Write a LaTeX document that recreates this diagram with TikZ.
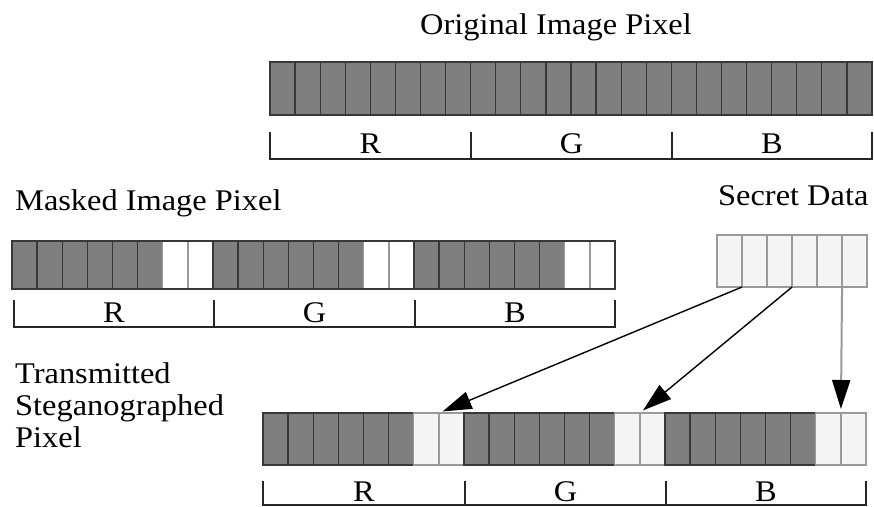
\documentclass[tikz,border=0pt]{standalone}
\usepackage{fontspec}
\setmainfont{Liberation Serif}[FakeStretch=1.08]
\usetikzlibrary{arrows.meta}
\definecolor{bitfill}{HTML}{7F7F7F}
\definecolor{bitline}{HTML}{383838}
\definecolor{freeline}{HTML}{9A9A9A}
\definecolor{datafill}{HTML}{F5F5F5}
\tikzset{
  bitcell/.style={draw, inner sep=0pt, outer sep=0pt, minimum width=25.125pt, line width=1.3pt},
  darkbit/.style={bitcell, fill=bitfill, draw=bitline},
  freebit/.style={bitcell, fill=white, draw=freeline},
  databit/.style={bitcell, fill=datafill, draw=freeline},
  caption/.style={inner sep=0pt, font=\fontsize{30}{32}\selectfont},
  brace/.style={line width=1.3pt, draw=black!85},
  pointer/.style={line width=1.4pt, shorten >=4pt, -{Triangle[length=29pt,width=18pt,black]}},
}
\begin{document}
\begin{tikzpicture}[x=1pt,y=-1pt]
\useasboundingbox (0,0) rectangle (874,506);

% ---- original pixel: 24 bits ----
\node[caption, anchor=base] (otitle) at (556,34) {Original Image Pixel};
\foreach \i in {1,...,24}{
  \node[darkbit, minimum height=53pt] (o\i) at ({270+(\i-0.5)*25.083},88.5) {};
}
\draw[brace] (270,132) -- (270,159) -- (872,159) -- (872,132);
\draw[brace] (471,132) -- (471,159) (672,132) -- (672,159);
\node[caption, anchor=base] (oR) at (370.5,153) {R};
\node[caption, anchor=base] (oG) at (571.5,153) {G};
\node[caption, anchor=base] (oB) at (772,153) {B};

% ---- masked pixel: two low bits of each channel cleared ----
\node[caption, anchor=base west] (mtitle) at (15,210) {Masked Image Pixel};
\foreach \i in {1,...,24}{
  \pgfmathtruncatemacro{\k}{mod(\i-1,8)}
  \ifnum\k<6 \def\cellstyle{darkbit}\else\def\cellstyle{freebit}\fi
  \node[\cellstyle, minimum height=48pt] (m\i) at ({12+(\i-0.5)*25.125},265) {};
}
\draw[line width=1.4pt, draw=bitline] (m1.north west) rectangle (m24.south east);
\draw[brace] (14,300) -- (14,327) -- (615,327) -- (615,300);
\draw[brace] (214,300) -- (214,327) (415,300) -- (415,327);
\node[caption, anchor=base] (mR) at (114,322) {R};
\node[caption, anchor=base] (mG) at (314.5,322) {G};
\node[caption, anchor=base] (mB) at (515,322) {B};

% ---- secret data: 6 bits ----
\node[caption, anchor=base west] (stitle) at (718,205) {Secret Data};
\foreach \i in {1,...,6}{
  \node[databit, minimum height=52pt] (s\i) at ({717+(\i-0.5)*25},261) {};
}

% ---- transmitted pixel ----
\node[caption, anchor=base west] (t1line) at (15,383) {Transmitted};
\node[caption, anchor=base west] (t2line) at (15,415) {Steganographed};
\node[caption, anchor=base west] (t3line) at (15,447) {Pixel};
\foreach \i in {1,...,24}{
  \pgfmathtruncatemacro{\k}{mod(\i-1,8)}
  \ifnum\k<6 \def\cellstyle{darkbit}\else\def\cellstyle{databit}\fi
  \node[\cellstyle, minimum height=52pt] (t\i) at ({263+(\i-0.5)*25.125},439) {};
}
\draw[brace] (263,481) -- (263,505) -- (866,505) -- (866,481);
\draw[brace] (465,481) -- (465,505) (666,481) -- (666,505);
\node[caption, anchor=base] (tR) at (364,501) {R};
\node[caption, anchor=base] (tG) at (565.5,501) {G};
\node[caption, anchor=base] (tB) at (766,501) {B};

% ---- embedding the secret bits ----
\draw[pointer] (s1.south east) -- (t7.north east);
\draw[pointer] (s3.south east) -- (t15.north east);
\draw[pointer, draw=freeline, line width=2pt] (s5.south east) -- (t23.north east);
\end{tikzpicture}
\end{document}
